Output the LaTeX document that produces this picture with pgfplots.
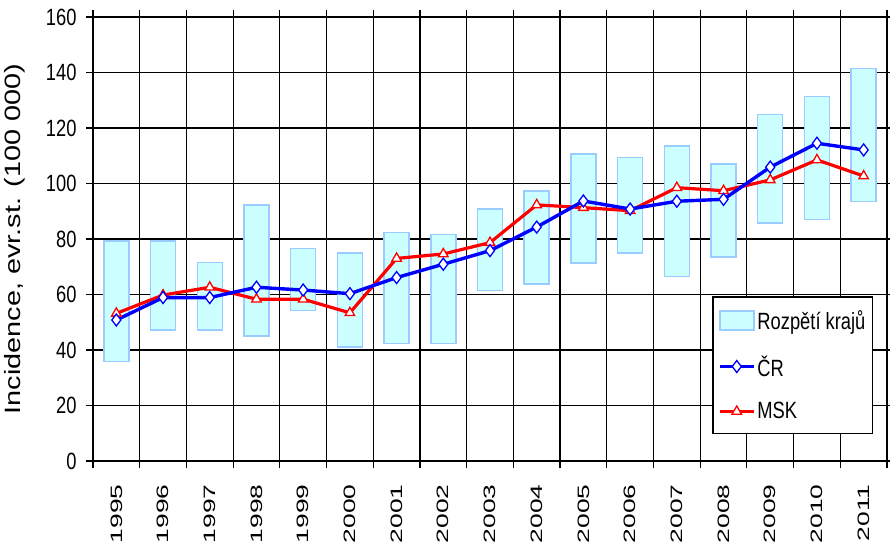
\documentclass[border=0pt]{standalone}
\usepackage{pgfplots}
\pgfplotsset{compat=1.18}
\usepackage{pgfplotstable}
\usepackage{fontspec}
\setmainfont{Liberation Sans}
\newfontfamily\tickf[FakeStretch=0.78]{Liberation Sans}
\newfontfamily\ylabf[FakeStretch=1.3]{Liberation Sans}
\newfontfamily\yearf[FakeStretch=1.6]{Liberation Sans}

\definecolor{barfill}{RGB}{204,255,255}
\definecolor{baredge}{RGB}{153,204,255}
\definecolor{crblue}{RGB}{0,0,255}
\definecolor{mskred}{RGB}{255,0,0}

% year index, range of regions (lo, hi), CR, MSK
\pgfplotstableread{
x  lo    hi     cr     msk
0  35.8  79.3   50.8   53.2
1  47.2  79.2   58.9   59.8
2  47.2  71.5   58.9   62.6
3  45.0  92.3   62.6   58.3
4  54.3  76.5   61.6   58.3
5  41.0  75.0   60.3   53.4
6  42.3  82.3   66.1   73.0
7  42.3  81.6   70.9   74.6
8  61.5  90.8   75.8   78.7
9  63.7  97.3   84.3   92.3
10 71.4  110.7  93.7   91.3
11 75.0  109.3  90.8   90.2
12 66.4  113.6  93.6   98.5
13 73.6  107.1  94.3   97.4
14 85.8  124.9  105.9  101.3
15 87.1  131.3  114.5  108.5
16 93.6  141.4  112.1  102.7
}\data

\pgfplotsset{
  base/.style={
    width=794bp, height=444bp, scale only axis,
    xmin=-0.5, xmax=16.5, ymin=0, ymax=160,
  },
  linelegend/.style={
    legend image code/.code={\draw[mark repeat=2,mark phase=2,##1]
      plot coordinates {(0bp,0bp) (17bp,0bp) (34bp,0bp)};}
  },
}

\begin{document}
\begin{tikzpicture}
\useasboundingbox (-93bp,-86bp) rectangle (797bp,461bp);
\begin{axis}[base,
  ybar stacked, bar width=25bp,
  axis line style={black, line width=1.6bp},
  tick align=outside, major tick length=7bp,
  tick style={black, line width=1.2bp},
  xtick={-0.5,0.5,...,16.5},
  xticklabels={{},{},{},{},{},{},{},{},{},{},{},{},{},{},{},{},{},{}},
  extra x ticks={0,1,...,16},
  extra x tick labels={1995,1996,1997,1998,1999,2000,2001,2002,2003,2004,2005,2006,2007,2008,2009,2010,2011},
  extra x tick style={grid=none, major tick length=0pt,
    xticklabel style={yshift=-20bp, rotate=90, anchor=east,
      font=\yearf\fontsize{16.5bp}{18bp}\selectfont}},
  xmajorgrids,
  x grid style={black, line width=1.2bp},
  ytick={0,20,...,160},
  ymajorgrids,
  y grid style={black, line width=1.8bp},
  /pgf/number format/assume math mode=true,
  yticklabel style={xshift=-6bp, font=\tickf\fontsize{23.5bp}{26bp}\selectfont},
  ylabel={Incidence, evr.st. (100 000)},
  every axis y label/.style={at={(axis description cs:-0.098,0.5)}, rotate=90, anchor=center,
    font=\ylabf\fontsize{22.2bp}{25bp}\selectfont},
]
\addplot[draw=none, fill=none, forget plot] table[x=x, y=lo] {\data};
\addplot[fill=barfill, draw=baredge, line width=1.5bp] table[x=x, y expr=\thisrow{hi}-\thisrow{lo}] {\data};
\end{axis}
\begin{axis}[base, hide axis,
  legend style={at={(0.9824,0.0608)}, anchor=south east, draw=black, line width=1.2bp,
    fill=white, font=\tickf\fontsize{23.5bp}{26bp}\selectfont,
    inner xsep=5bp, inner ysep=11bp, row sep=21bp},
  legend cell align=left,
]
\addlegendimage{legend image code/.code={\draw[fill=barfill, draw=baredge, line width=1.5bp] (0bp,-9.5bp) rectangle (34bp,9.5bp);}}
\addplot[mskred, line width=3.2bp, mark=triangle*, mark size=5.5bp,
  mark options={fill=white, draw=mskred, line width=1.3bp}, forget plot]
  table[x=x, y=msk] {\data};
\addplot[crblue, line width=3.4bp, mark=diamond*, mark size=6bp, linelegend,
  mark options={fill=white, draw=crblue, line width=1.3bp}]
  table[x=x, y=cr] {\data};
\addlegendimage{mskred, line width=3.2bp, mark=triangle*, mark size=5.5bp, linelegend,
  mark options={fill=white, draw=mskred, line width=1.3bp}}
\legend{Rozpětí krajů, ČR, MSK}
\end{axis}
\end{tikzpicture}
\end{document}
